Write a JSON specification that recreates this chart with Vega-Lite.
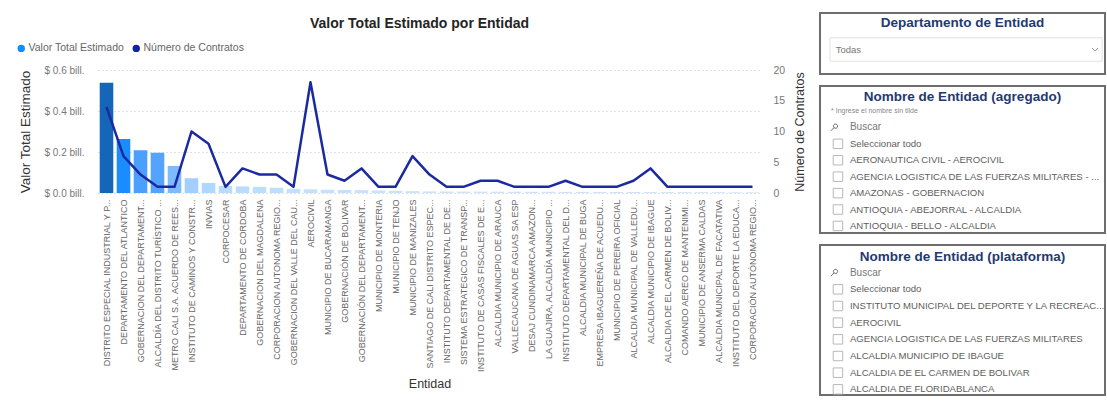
{
  "$schema": "https://vega.github.io/schema/vega-lite/v6.json",
  "background": "white",
  "padding": {"left": 16, "top": 12, "right": 2, "bottom": 4},
  "spacing": 12,
  "config": {
    "font": "Liberation Sans Narrow, Liberation Sans, Arial, sans-serif",
    "view": {"stroke": null}
  },
  "hconcat": [
    {
      "vconcat": [
        {
          "width": 663,
          "height": 42,
          "title": {"text": "Valor Total Estimado por Entidad", "fontSize": 14, "fontWeight": "bold", "color": "#252423", "dx": -10, "offset": -18},
          "data": {"values": [{"serie": "Valor Total Estimado"}]},
          "transform": [{"filter": "false"}],
          "mark": {"type": "point", "filled": true, "shape": "circle", "opacity": 1},
          "encoding": {
            "color": {
              "field": "serie", "type": "nominal",
              "scale": {"domain": ["Valor Total Estimado", "Número de Contratos"], "range": ["#118DFF", "#12239E"]},
              "legend": {"orient": "none", "legendX": -82, "legendY": 30, "direction": "horizontal", "title": null, "symbolType": "circle", "symbolSize": 55, "labelFontSize": 10.5, "labelColor": "#666666", "columnPadding": 6, "labelOffset": 2}
            }
          }
        },
        {
          "width": 663,
          "height": 123,
          "data": {"values": [
            {"entidad": "DISTRITO ESPECIAL INDUSTRIAL Y P...", "valor": 0.538, "contratos": 14},
            {"entidad": "DEPARTAMENTO DEL ATLANTICO", "valor": 0.263, "contratos": 6},
            {"entidad": "GOBERNACION DEL DEPARTAMENT...", "valor": 0.209, "contratos": 3},
            {"entidad": "ALCALDÍA DEL DISTRITO TURÍSTICO ...", "valor": 0.196, "contratos": 1},
            {"entidad": "METRO CALI S.A. ACUERDO DE REES...", "valor": 0.132, "contratos": 1},
            {"entidad": "INSTITUTO DE CAMINOS Y CONSTR...", "valor": 0.072, "contratos": 10},
            {"entidad": "INVIAS", "valor": 0.049, "contratos": 8},
            {"entidad": "CORPOCESAR", "valor": 0.034, "contratos": 1},
            {"entidad": "DEPARTAMENTO DE CORDOBA", "valor": 0.032, "contratos": 4},
            {"entidad": "GOBERNACION DEL MAGDALENA", "valor": 0.03, "contratos": 3},
            {"entidad": "CORPORACION AUTONOMA REGIO...", "valor": 0.026, "contratos": 3},
            {"entidad": "GOBERNACION DEL VALLE DEL CAU...", "valor": 0.02, "contratos": 1},
            {"entidad": "AEROCIVIL", "valor": 0.018, "contratos": 18},
            {"entidad": "MUNICIPIO DE BUCARAMANGA", "valor": 0.016, "contratos": 3},
            {"entidad": "GOBERNACIÓN DE BOLIVAR", "valor": 0.015, "contratos": 2},
            {"entidad": "GOBERNACIÓN DEL DEPARTAMENT...", "valor": 0.014, "contratos": 4},
            {"entidad": "MUNICIPIO DE MONTERIA", "valor": 0.012, "contratos": 1},
            {"entidad": "MUNICIPIO DE TENJO", "valor": 0.011, "contratos": 1},
            {"entidad": "MUNICIPIO DE MANIZALES", "valor": 0.009, "contratos": 6},
            {"entidad": "SANTIAGO DE CALI DISTRITO ESPEC...", "valor": 0.008, "contratos": 3},
            {"entidad": "INSTITUTO DEPARTAMENTAL DE DE...", "valor": 0.0075, "contratos": 1},
            {"entidad": "SISTEMA ESTRATEGICO DE TRANSP...", "valor": 0.007, "contratos": 1},
            {"entidad": "INSTITUTO DE CASAS FISCALES DE E...", "valor": 0.0068, "contratos": 2},
            {"entidad": "ALCALDIA MUNICIPIO DE ARAUCA", "valor": 0.0065, "contratos": 2},
            {"entidad": "VALLECAUCANA DE AGUAS SA ESP", "valor": 0.0062, "contratos": 1},
            {"entidad": "DESAJ CUNDINAMARCA AMAZON...", "valor": 0.006, "contratos": 1},
            {"entidad": "LA GUAJIRA, ALCALDÍA MUNICIPIO ...", "valor": 0.0058, "contratos": 1},
            {"entidad": "INSTITUTO DEPARTAMENTAL DEL D...", "valor": 0.0056, "contratos": 2},
            {"entidad": "ALCALDIA MUNICIPAL DE BUGA", "valor": 0.0054, "contratos": 1},
            {"entidad": "EMPRESA IBAGUEREÑA DE ACUEDU...", "valor": 0.0052, "contratos": 1},
            {"entidad": "MUNICIPIO DE PEREIRA OFICIAL", "valor": 0.005, "contratos": 1},
            {"entidad": "ALCALDIA MUNICIPAL DE VALLEDU...", "valor": 0.0048, "contratos": 2},
            {"entidad": "ALCALDIA MUNICIPIO DE IBAGUE", "valor": 0.0046, "contratos": 4},
            {"entidad": "ALCALDIA DE EL CARMEN DE BOLIV...", "valor": 0.0044, "contratos": 1},
            {"entidad": "COMANDO AEREO DE MANTENIMI...", "valor": 0.0042, "contratos": 1},
            {"entidad": "MUNICIPIO DE ANSERMA CALDAS", "valor": 0.004, "contratos": 1},
            {"entidad": "ALCALDIA MUNICIPAL DE FACATATIVA", "valor": 0.0038, "contratos": 1},
            {"entidad": "INSTITUTO DEL DEPORTE LA EDUCA...", "valor": 0.0036, "contratos": 1},
            {"entidad": "CORPORACIÓN AUTÓNOMA REGIO...", "valor": 0.0034, "contratos": 1}
          ]},
          "encoding": {
            "x": {
              "field": "entidad", "type": "nominal", "sort": null, "title": "Entidad",
              "scale": {"paddingInner": 0.2, "paddingOuter": 0.1},
              "axis": {"labelAngle": -90, "labelFontSize": 9, "labelColor": "#666666", "labelPadding": 6, "labelLimit": 220, "ticks": false, "domain": false, "titleFontSize": 12.5, "titleColor": "#333333", "titleFontWeight": "normal", "titlePadding": 6}
            }
          },
          "layer": [
            {
              "mark": {"type": "bar"},
              "encoding": {
                "y": {
                  "field": "valor", "type": "quantitative", "scale": {"domain": [0, 0.6]},
                  "axis": {"orient": "left", "values": [0, 0.2, 0.4, 0.6], "labelExpr": "'$ ' + format(datum.value, '.1f') + ' bill.'", "title": "Valor Total Estimado", "grid": true, "gridDash": [1, 3], "gridColor": "#c4c4c4", "domain": false, "ticks": false, "labelColor": "#777777", "labelFontSize": 10, "labelPadding": 14, "titleFontSize": 13.5, "titleColor": "#333333", "titleFontWeight": "normal", "titlePadding": 11}
                },
                "fill": {"field": "valor", "type": "quantitative", "scale": {"domain": [0, 0.26, 0.54], "range": ["#cfe7fc", "#1a8cff", "#1565b8"]}, "legend": null}
              }
            },
            {
              "mark": {"type": "line", "color": "#1b2a9e", "strokeWidth": 2.5, "strokeJoin": "round"},
              "encoding": {
                "y": {
                  "field": "contratos", "type": "quantitative", "scale": {"domain": [0, 20]},
                  "axis": {"orient": "right", "values": [0, 5, 10, 15, 20], "title": "Número de Contratos", "titleAngle": 270, "titleBaseline": "top", "grid": false, "domain": false, "ticks": false, "labelColor": "#777777", "labelFontSize": 10.5, "labelPadding": 12, "titleFontSize": 12.5, "titleColor": "#333333", "titleFontWeight": "normal", "titlePadding": 9}
                }
              }
            }
          ],
          "resolve": {"scale": {"y": "independent"}}
        }
      ],
      "spacing": 10
    },
    {
      "vconcat": [
        {
          "width": 285,
          "height": 61,
          "view": {"stroke": "#6e6e6e", "strokeWidth": 2, "fill": "white"},
          "title": {"text": "Departamento de Entidad", "fontSize": 13.5, "fontWeight": "bold", "color": "#1f3a72", "anchor": "middle", "offset": -16},
          "data": {"values": [{"departamento": "Todas"}]},
          "encoding": {
            "y": {"field": "departamento", "type": "nominal", "axis": null, "scale": {"paddingInner": 0, "paddingOuter": 0.8, "align": 0.66}}
          },
          "layer": [
            {
              "mark": {"type": "bar", "fill": "white", "stroke": "#e2e2e2", "strokeWidth": 1},
              "encoding": {
                "x": {"datum": 0.035, "type": "quantitative", "scale": {"domain": [0, 1]}, "axis": null},
                "x2": {"datum": 0.99}
              }
            },
            {
              "mark": {"type": "text", "align": "left", "fontSize": 9.5, "color": "#777777"},
              "encoding": {
                "x": {"datum": 0.055, "type": "quantitative"},
                "text": {"field": "departamento"}
              }
            },
            {
              "mark": {"type": "point", "shape": "M-1,-0.5L0,0.5L1,-0.5", "filled": false, "stroke": "#9a9a9a", "strokeWidth": 1, "size": 40, "opacity": 1},
              "encoding": {"x": {"datum": 0.965, "type": "quantitative"}}
            }
          ]
        },
        {
          "width": 285,
          "height": 147,
          "view": {"stroke": "#6e6e6e", "strokeWidth": 2, "fill": "white"},
          "title": {"text": "Nombre de Entidad (agregado)", "fontSize": 13.5, "fontWeight": "bold", "color": "#1f3a72", "anchor": "middle", "offset": -17},
          "data": {"values": [
            {"n": 1, "tipo": "nota", "texto": "* Ingrese el nombre sin tilde"},
            {"n": 2, "tipo": "buscar", "texto": "Buscar"},
            {"n": 3, "tipo": "opcion", "texto": "Seleccionar todo"},
            {"n": 4, "tipo": "opcion", "texto": "AERONAUTICA CIVIL - AEROCIVIL"},
            {"n": 5, "tipo": "opcion", "texto": "AGENCIA LOGISTICA DE LAS FUERZAS MILITARES - ..."},
            {"n": 6, "tipo": "opcion", "texto": "AMAZONAS - GOBERNACION"},
            {"n": 7, "tipo": "opcion", "texto": "ANTIOQUIA - ABEJORRAL - ALCALDIA"},
            {"n": 8, "tipo": "opcion", "texto": "ANTIOQUIA - BELLO - ALCALDIA"}
          ]},
          "encoding": {
            "y": {"field": "n", "type": "ordinal", "axis": null, "scale": {"type": "point", "padding": 0.975, "align": 0.78}}
          },
          "layer": [
            {
              "transform": [{"filter": "datum.tipo == 'nota'"}],
              "mark": {"type": "text", "align": "left", "fontSize": 7, "color": "#888888"},
              "encoding": {"x": {"datum": 0.039, "type": "quantitative", "scale": {"domain": [0, 1]}, "axis": null}, "text": {"field": "texto"}}
            },
            {
              "transform": [{"filter": "datum.tipo == 'buscar'"}],
              "mark": {"type": "point", "shape": "M0.8,-0.3A0.5,0.5 0 1 1 -0.2,-0.3A0.5,0.5 0 1 1 0.8,-0.3M-0.05,0.05L-0.8,0.8", "filled": false, "stroke": "#666666", "strokeWidth": 1, "size": 70, "opacity": 1},
              "encoding": {"x": {"datum": 0.05, "type": "quantitative"}}
            },
            {
              "transform": [{"filter": "datum.tipo == 'buscar'"}],
              "mark": {"type": "text", "align": "left", "fontSize": 10, "color": "#777777"},
              "encoding": {"x": {"datum": 0.105, "type": "quantitative"}, "text": {"field": "texto"}}
            },
            {
              "transform": [{"filter": "datum.tipo == 'opcion'"}],
              "mark": {"type": "point", "shape": "square", "filled": false, "stroke": "#b8b8b8", "strokeWidth": 1, "size": 90, "opacity": 1},
              "encoding": {"x": {"datum": 0.063, "type": "quantitative"}}
            },
            {
              "transform": [{"filter": "datum.tipo == 'opcion'"}],
              "mark": {"type": "text", "align": "left", "fontSize": 9.6, "color": "#605e5c"},
              "encoding": {"x": {"datum": 0.105, "type": "quantitative"}, "text": {"field": "texto"}}
            }
          ]
        },
        {
          "width": 285,
          "height": 150,
          "view": {"stroke": "#6e6e6e", "strokeWidth": 2, "fill": "white"},
          "title": {"text": "Nombre de Entidad (plataforma)", "fontSize": 13.5, "fontWeight": "bold", "color": "#1f3a72", "anchor": "middle", "offset": -18},
          "data": {"values": [
            {"n": 1, "tipo": "buscar", "texto": "Buscar"},
            {"n": 2, "tipo": "opcion", "texto": "Seleccionar todo"},
            {"n": 3, "tipo": "opcion", "texto": "INSTITUTO MUNICIPAL DEL DEPORTE Y LA RECREAC..."},
            {"n": 4, "tipo": "opcion", "texto": "AEROCIVIL"},
            {"n": 5, "tipo": "opcion", "texto": "AGENCIA LOGISTICA DE LAS FUERZAS MILITARES"},
            {"n": 6, "tipo": "opcion", "texto": "ALCALDIA MUNICIPIO DE IBAGUE"},
            {"n": 7, "tipo": "opcion", "texto": "ALCALDIA DE EL CARMEN DE BOLIVAR"},
            {"n": 8, "tipo": "opcion", "texto": "ALCALDIA DE FLORIDABLANCA"}
          ]},
          "encoding": {
            "y": {"field": "n", "type": "ordinal", "axis": null, "scale": {"type": "point", "padding": 1.065, "align": 0.83}}
          },
          "layer": [
            {
              "transform": [{"filter": "datum.tipo == 'buscar'"}],
              "mark": {"type": "point", "shape": "M0.8,-0.3A0.5,0.5 0 1 1 -0.2,-0.3A0.5,0.5 0 1 1 0.8,-0.3M-0.05,0.05L-0.8,0.8", "filled": false, "stroke": "#666666", "strokeWidth": 1, "size": 70, "opacity": 1},
              "encoding": {"x": {"datum": 0.05, "type": "quantitative", "scale": {"domain": [0, 1]}, "axis": null}}
            },
            {
              "transform": [{"filter": "datum.tipo == 'buscar'"}],
              "mark": {"type": "text", "align": "left", "fontSize": 10, "color": "#777777"},
              "encoding": {"x": {"datum": 0.105, "type": "quantitative"}, "text": {"field": "texto"}}
            },
            {
              "transform": [{"filter": "datum.tipo == 'opcion'"}],
              "mark": {"type": "point", "shape": "square", "filled": false, "stroke": "#b8b8b8", "strokeWidth": 1, "size": 90, "opacity": 1},
              "encoding": {"x": {"datum": 0.063, "type": "quantitative"}}
            },
            {
              "transform": [{"filter": "datum.tipo == 'opcion'"}],
              "mark": {"type": "text", "align": "left", "fontSize": 9.6, "color": "#605e5c"},
              "encoding": {"x": {"datum": 0.105, "type": "quantitative"}, "text": {"field": "texto"}}
            }
          ]
        }
      ],
      "spacing": 10
    }
  ]
}
